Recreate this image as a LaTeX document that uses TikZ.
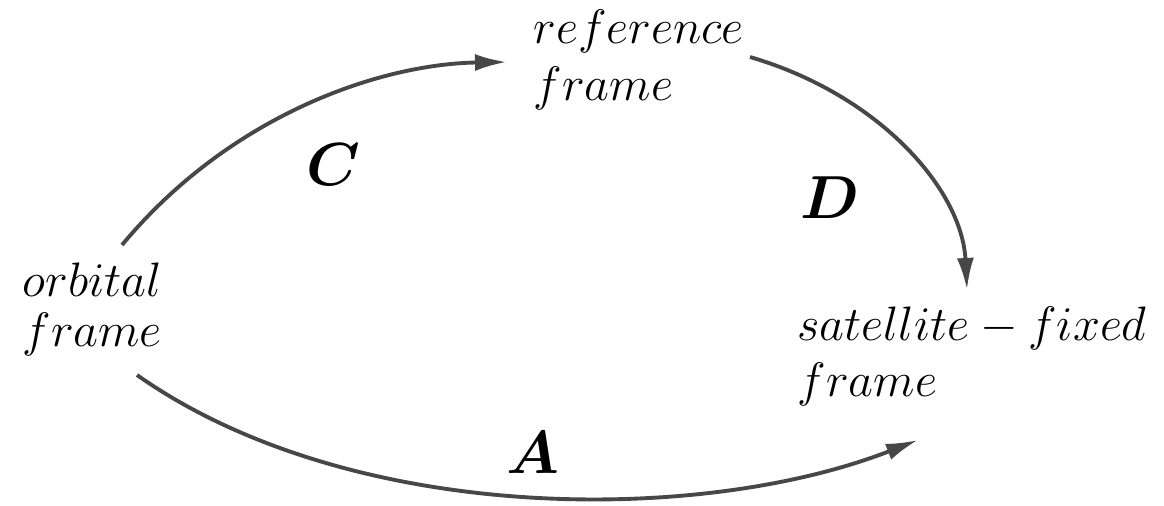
\documentclass[tikz,border=0pt]{standalone}
\usepackage{amsmath,amssymb,bm}
\usetikzlibrary{positioning,arrows.meta}
\tikzset{
  % --- frame labels ----------------------------------------------------
  frame/.style  ={align=left, inner sep=0pt, anchor=north west,
                  scale=0.955, transform shape,
                  font=\fontsize{14.4}{15}\selectfont},
  tag/.style    ={inner sep=0pt, font=\fontsize{17.28}{20}\selectfont},
  % --- arrows ----------------------------------------------------------
  arrow/.style  ={-{Latex[length=3.2mm,width=1.7mm]}, line width=1.1pt,
                  draw=black!72},
}
\begin{document}
\begin{tikzpicture}[x=0.01cm, y=-0.01cm]
  \useasboundingbox (0,0) rectangle (1164,505);

  % ============================= frames =============================
  \node[frame] (ref) at (533,9)   {$reference$\\[2pt]$frame$};
  \node[frame] (orb) at (22,262)  {$orbital$\\[-0.1pt]$frame$};
  \node[frame] (sat) at (797,306) {$satellite-fixed$\\[1.7pt]$frame$};

  % ============================= rotation tags =============================
  \node[tag] (tc) at (333,165) {$\bm{C}$};
  \node[tag] (td) at (830,198) {$\bm{D}$};
  \node[tag] (ta) at (533,453) {$\bm{A}$};

  % ============================= arrow ends =============================
  \coordinate (c0) at (122,245);  \coordinate (c1) at (507,62);
  \coordinate (d0) at (750,57);   \coordinate (d1) at (967,290);
  \coordinate (a0) at (137,375);  \coordinate (a1) at (918,440);

  % ============================= edges =============================
  \draw[arrow] (c0) .. controls (230,115) and (380,64) .. (c1);
  \draw[arrow] (d0) .. controls (880,95) and (962,190) .. (d1);
  \draw[arrow] (a0) .. controls (350,525) and (700,525) .. (a1);
\end{tikzpicture}
\end{document}
